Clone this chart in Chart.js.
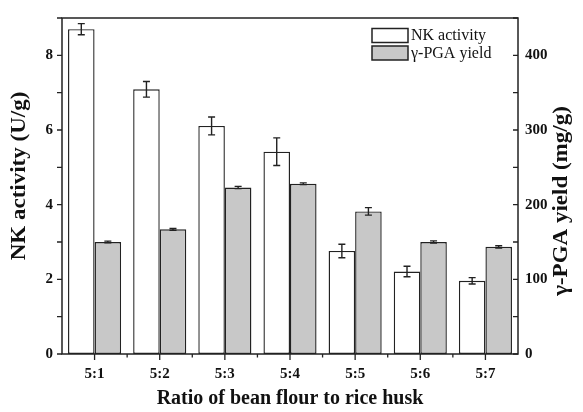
<!DOCTYPE html>
<html>
<head>
<meta charset="utf-8">
<script src="https://cdn.jsdelivr.net/npm/chart.js@4.4.1/dist/chart.umd.min.js"></script>
<style>
html,body{margin:0;padding:0;background:#fff;}
#wrap{width:583px;height:412px;position:relative;}
</style>
</head>
<body>
<div id="wrap"><canvas id="c" width="583" height="412"></canvas></div>
<script>
const categories = ['5:1','5:2','5:3','5:4','5:5','5:6','5:7'];
const nkActivity = [8.70, 7.09, 6.11, 5.42, 2.76, 2.21, 1.96];
const nkError = [0.15, 0.21, 0.24, 0.37, 0.18, 0.14, 0.085];
const pgaYield = [150, 167, 223, 228, 191, 150, 143.5];
const pgaError = [1.2, 1.2, 1.5, 1.2, 5, 1.5, 1.5];
const leftTicks = [0, 2, 4, 6, 8];
const rightTicks = [0, 100, 200, 300, 400];
const seriesNames = ['NK activity', 'γ-PGA yield'];
const axisTitles = { x: 'Ratio of bean flour to rice husk', y: 'NK activity (U/g)', y1: 'γ-PGA yield (mg/g)' };

const errors = [nkError, pgaError];
const INK = '#222';
const SERIF = '"Liberation Serif", "DejaVu Serif", serif';

const framePlugin = {
  id: 'frame',
  afterDatasetsDraw(chart) {
    const ctx = chart.ctx;
    chart.data.datasets.forEach((ds, i) => {
      const meta = chart.getDatasetMeta(i);
      const sc = chart.scales[ds.yAxisID];
      meta.data.forEach((el, j) => {
        const v = ds.data[j], e = errors[i][j];
        const yTop = sc.getPixelForValue(v + e), yBot = sc.getPixelForValue(v - e);
        ctx.save();
        ctx.strokeStyle = INK; ctx.lineWidth = 1.4;
        ctx.beginPath();
        ctx.moveTo(el.x, yTop); ctx.lineTo(el.x, yBot);
        ctx.moveTo(el.x - 3.5, yTop); ctx.lineTo(el.x + 3.5, yTop);
        ctx.moveTo(el.x - 3.5, yBot); ctx.lineTo(el.x + 3.5, yBot);
        ctx.stroke();
        ctx.restore();
      });
    });
  },
  afterDraw(chart) {
    const ctx = chart.ctx;
    const a = chart.chartArea;
    ctx.save();
    ctx.strokeStyle = INK; ctx.lineWidth = 1.5;
    ctx.strokeRect(a.left, a.top, a.right - a.left, a.bottom - a.top);
    ctx.lineWidth = 1.3;
    ctx.beginPath();
    const y = chart.scales.y;
    y.ticks.forEach(t => { const p = y.getPixelForValue(t.value); ctx.moveTo(a.left - 5, p); ctx.lineTo(a.left, p); });
    const y1 = chart.scales.y1;
    y1.ticks.forEach(t => { const p = y1.getPixelForValue(t.value); ctx.moveTo(a.right - 5, p); ctx.lineTo(a.right, p); });
    const x = chart.scales.x;
    categories.forEach((c, i) => {
      const p = x.getPixelForValue(i);
      ctx.moveTo(p, a.bottom); ctx.lineTo(p, a.bottom + 6);
      if (i < categories.length - 1) {
        const m = (p + x.getPixelForValue(i + 1)) / 2;
        ctx.moveTo(m, a.bottom); ctx.lineTo(m, a.bottom + 3.5);
      }
    });
    ctx.stroke();

    ctx.fillStyle = '#111';
    ctx.textAlign = 'center'; ctx.textBaseline = 'middle';
    ctx.font = 'bold 20px ' + SERIF;
    ctx.fillText(axisTitles.x, (a.left + a.right) / 2, 399);
    ctx.save(); ctx.translate(20, 176); ctx.rotate(-Math.PI / 2); ctx.scale(1.15, 1);
    ctx.fillText(axisTitles.y, 0, 0); ctx.restore();
    ctx.save(); ctx.translate(562, 201); ctx.rotate(-Math.PI / 2); ctx.scale(1.15, 1);
    ctx.fillText(axisTitles.y1, 0, 0); ctx.restore();

    ctx.font = '16px ' + SERIF;
    ctx.textAlign = 'left';
    chart.data.datasets.forEach((ds, i) => {
      const by = 28.5 + i * 17.5;
      ctx.fillStyle = ds.backgroundColor;
      ctx.fillRect(372, by, 36, 14);
      ctx.lineWidth = 1.5; ctx.strokeStyle = INK;
      ctx.strokeRect(372, by, 36, 14);
      ctx.fillStyle = '#111';
      ctx.fillText(ds.label, 411, by + 7.5);
    });
    ctx.restore();
  }
};

new Chart(document.getElementById('c'), {
  type: 'bar',
  data: {
    labels: categories,
    datasets: [
      { label: seriesNames[0], data: nkActivity, yAxisID: 'y', backgroundColor: '#ffffff', borderColor: INK, borderWidth: 1.4, borderSkipped: false },
      { label: seriesNames[1], data: pgaYield, yAxisID: 'y1', backgroundColor: '#c8c8c8', borderColor: INK, borderWidth: 1.4, borderSkipped: false }
    ]
  },
  options: {
    responsive: false,
    animation: false,
    layout: { padding: { top: 14, left: 0, right: 0, bottom: 0 } },
    datasets: { bar: { categoryPercentage: 0.815, barPercentage: 1.0 } },
    plugins: { legend: { display: false }, tooltip: { enabled: false } },
    scales: {
      x: {
        grid: { display: false, drawTicks: false }, border: { display: false },
        ticks: { color: '#111', font: { family: SERIF, size: 15, weight: 'bold' }, padding: 11 },
        afterFit(s) { s.height = 58; }
      },
      y: {
        position: 'left', min: 0, max: 9,
        grid: { display: false, drawTicks: false }, border: { display: false },
        ticks: { stepSize: 1, color: '#111', font: { family: SERIF, size: 15, weight: 'bold' }, padding: 9,
          callback: v => leftTicks.includes(v) ? String(v) : '' },
        afterFit(s) { s.width = 62; }
      },
      y1: {
        position: 'right', min: 0, max: 450,
        grid: { display: false, drawTicks: false }, border: { display: false },
        ticks: { stepSize: 50, color: '#111', font: { family: SERIF, size: 15, weight: 'bold' }, padding: 7,
          callback: v => rightTicks.includes(v) ? String(v) : '' },
        afterFit(s) { s.width = 65; }
      }
    }
  },
  plugins: [framePlugin]
});
</script>
</body>
</html>
